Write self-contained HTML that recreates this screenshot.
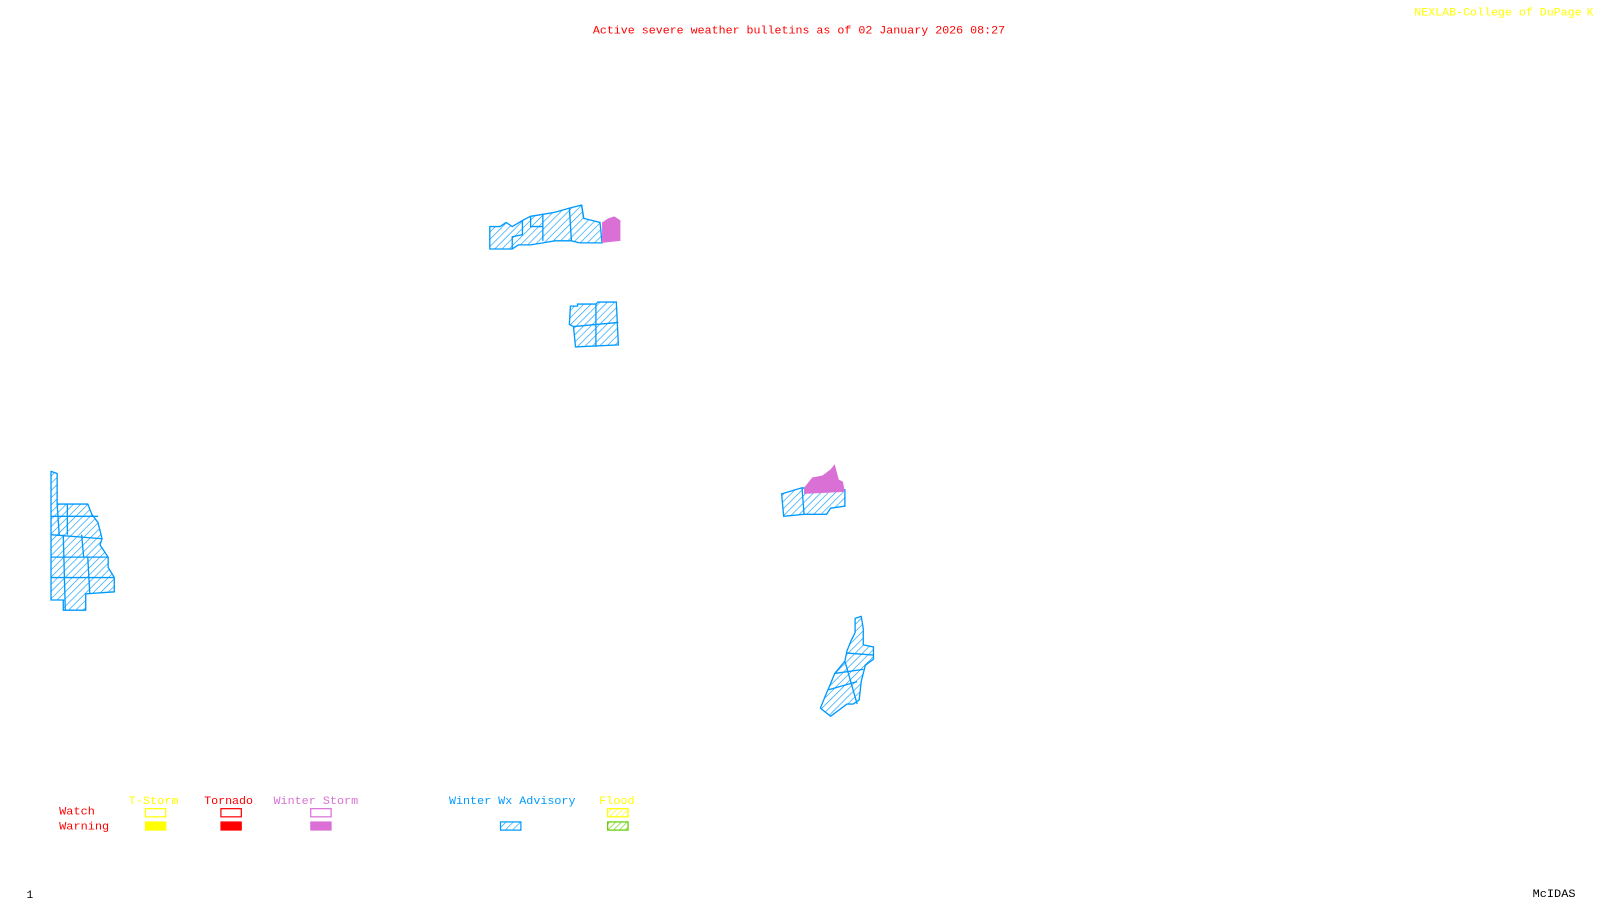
<!DOCTYPE html>
<html><head><meta charset="utf-8"><style>
html,body{margin:0;padding:0;background:#fff;width:1600px;height:900px;overflow:hidden}
svg{display:block}
text{font-family:"Liberation Mono",monospace;font-size:11px}
</style></head><body>
<svg width="1600" height="900" viewBox="0 0 1600 900">
<defs>
<pattern id="hb" width="5" height="5" patternUnits="userSpaceOnUse" patternTransform="rotate(45)"><rect width="5" height="5" fill="#fff"/><line x1="0" y1="0" x2="0" y2="5" stroke="#0099ff" stroke-width="1.2"/></pattern>
<pattern id="hy" width="4" height="4" patternUnits="userSpaceOnUse" patternTransform="rotate(45)"><line x1="0" y1="0" x2="0" y2="4" stroke="#ffff00" stroke-width="1.2"/></pattern>
<pattern id="hg" width="4" height="4" patternUnits="userSpaceOnUse" patternTransform="rotate(45)"><line x1="0" y1="0" x2="0" y2="4" stroke="#66cc00" stroke-width="1.2"/></pattern>
</defs>
<g transform="scale(1.0204)">
<text x="581" y="33" fill="#ff0000" textLength="404" lengthAdjust="spacingAndGlyphs">Active severe weather bulletins as of 02 January 2026 08:27</text>
<text x="1386" y="15" fill="#ffff00" textLength="164" lengthAdjust="spacingAndGlyphs">NEXLAB-College of DuPage</text>
<text x="1555" y="15" fill="#ffff00">K</text>
<text x="26" y="880" fill="#000">1</text>
<text x="1502" y="879" fill="#000" textLength="42" lengthAdjust="spacingAndGlyphs">McIDAS</text>

<g stroke="#0099ff" stroke-width="1.3" fill="url(#hb)">
<path d="M480,244 L480,222 L490,222 L496,218 L502,222 L512,216 L520,212 L532,210 L544,208 L558,204 L570,201 L572,214 L580,216 L588,218 L590,238 L568,238 L560,236 L544,236 L532,238 L520,240 L508,240 L502,244 Z"/>
<path d="M512,216 L512,230 L502,232 L502,244 M532,210 L532,236 M558,204 L560,236 M570,201 L572,214 M520,212 L520,222 L532,222"/>
<path d="M559,300 L566,300 L566,298 L584,298 L586,296 L604,296 L606,338 L564,340 L562,320 L558,318 Z"/>
<path d="M584,298 L584,340 M562,320 L606,316"/>
<path d="M50,462 L56,464 L56,494 L86,494 L90,504 L96,512 L100,528 L98,534 L106,546 L106,556 L112,566 L112,580 L84,582 L84,598 L62,598 L62,588 L50,588 Z"/>
<path d="M50,506 L96,506 M56,494 L58,524 M50,524 L100,528 M66,494 L66,524 M50,546 L106,546 M62,524 L64,598 M80,524 L82,546 M50,566 L112,566 M86,546 L88,582"/>
<path d="M766,484 L786,478 L828,480 L828,496 L814,498 L810,504 L788,504 L768,506 Z"/>
<path d="M786,478 L788,504"/>
<path d="M838,606 L844,604 L846,616 L846,632 L856,634 L856,646 L848,652 L844,668 L842,686 L836,690 L830,690 L814,702 L804,694 L808,684 L814,670 L818,660 L828,648 L830,638 L834,628 L838,620 Z"/>
<path d="M830,640 L856,642 M818,660 L846,656 M812,676 L840,668 M828,648 L840,690"/>
</g>
<g fill="#da70d6">
<path d="M590,218 L596,214 L602,212 L608,216 L608,236 L590,238 Z"/>
<path d="M788,478 L796,468 L806,466 L814,460 L818,455 L822,470 L826,472 L828,482 L788,484 Z"/>
</g>

<text x="126" y="788" fill="#ffff00" textLength="49" lengthAdjust="spacingAndGlyphs">T-Storm</text>
<text x="200" y="788" fill="#ff0000" textLength="48" lengthAdjust="spacingAndGlyphs">Tornado</text>
<text x="268" y="788" fill="#da70d6" textLength="83" lengthAdjust="spacingAndGlyphs">Winter Storm</text>
<text x="440" y="788" fill="#0099ff" textLength="124" lengthAdjust="spacingAndGlyphs">Winter Wx Advisory</text>
<text x="587" y="788" fill="#ffff00" textLength="35" lengthAdjust="spacingAndGlyphs">Flood</text>
<text x="58" y="798" fill="#ff0000" textLength="35" lengthAdjust="spacingAndGlyphs">Watch</text>
<text x="58" y="813" fill="#ff0000" textLength="49" lengthAdjust="spacingAndGlyphs">Warning</text>
<rect x="142.5" y="792.5" width="20" height="8" fill="none" stroke="#ffff00" stroke-width="1.2"/>
<rect x="216.5" y="792.5" width="20" height="8" fill="none" stroke="#ff0000" stroke-width="1.2"/>
<rect x="304.5" y="792.5" width="20" height="8" fill="none" stroke="#da70d6" stroke-width="1.2"/>
<rect x="595.5" y="792.5" width="20" height="8" fill="url(#hy)" stroke="#ffff00" stroke-width="1.2"/>
<rect x="142" y="805" width="21" height="9" fill="#ffff00"/>
<rect x="216" y="805" width="21" height="9" fill="#ff0000"/>
<rect x="304" y="805" width="21" height="9" fill="#da70d6"/>
<rect x="490.5" y="805.5" width="20" height="8" fill="url(#hb)" stroke="#0099ff" stroke-width="1.2"/>
<rect x="595.5" y="805.5" width="20" height="8" fill="url(#hg)" stroke="#66cc00" stroke-width="1.2"/>
</g>
</svg>
</body></html>
